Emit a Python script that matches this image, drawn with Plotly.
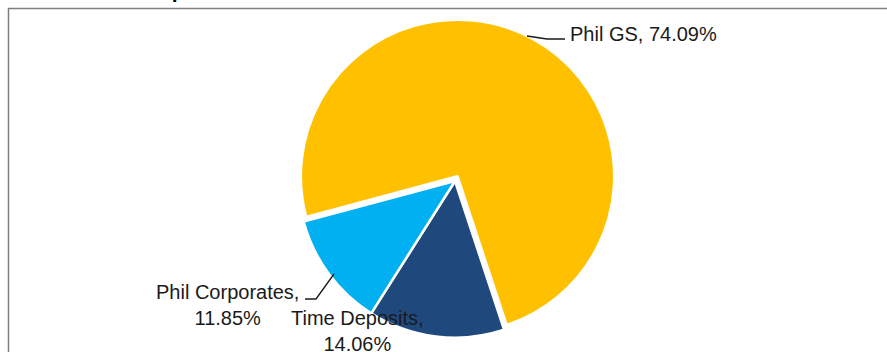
import plotly.graph_objects as go

W, H = 887, 352

labels = ["Phil GS", "Time Deposits", "Phil Corporates"]
values = [74.09, 14.06, 11.85]
colors = ["#FFC000", "#1F497D", "#00B0F0"]
pulls = [0.034, 0, 0]
title_text = "Portfolio Composition"

def px(x):
    return x / W

def py(y):
    return 1 - y / H

fig = go.Figure()
fig.add_trace(go.Pie(
    labels=labels,
    values=values,
    sort=False,
    direction="clockwise",
    rotation=-105,
    pull=pulls,
    textinfo="none",
    hoverinfo="label+percent",
    marker=dict(colors=colors, line=dict(color="white", width=2.5)),
    domain=dict(x=[px(455 - 162), px(455 + 162)], y=[py(181 + 162), py(181 - 162)]),
    showlegend=False,
))

font = dict(family="Liberation Sans, Arial, sans-serif", size=20, color="#1a1a1a")

# label positions (pixel coords, layout only)
label_pos = {
    "Phil GS": dict(x=568, y=34, xanchor="left", br=False),
    "Phil Corporates": dict(x=227, y=305, xanchor="center", br=True),
    "Time Deposits": dict(x=357, y=331, xanchor="center", br=True),
}
annotations = []
for lab, val in zip(labels, values):
    p = label_pos[lab]
    sep = "<br>" if p["br"] else " "
    annotations.append(dict(
        text=f"{lab},{sep}{val:.2f}%",
        x=px(p["x"]), y=py(p["y"]), xref="paper", yref="paper",
        xanchor=p["xanchor"], yanchor="middle", showarrow=False,
        font=font, align="center",
    ))

annotations.append(dict(
    text=f"<b>{title_text}</b>", x=px(31), y=py(-9.5), xref="paper", yref="paper",
    xanchor="left", yanchor="middle", showarrow=False,
    font=dict(family="Liberation Sans, Arial, sans-serif", size=21, color="#000000"),
))

shapes = [
    # outer frame
    dict(type="rect", xref="paper", yref="paper", x0=px(8.5), y0=-0.2, x1=1.2, y1=py(8.5),
         line=dict(color="#7f7f7f", width=1.5), fillcolor="rgba(0,0,0,0)", layer="below"),
    # leader line Phil GS
    dict(type="path", xref="paper", yref="paper",
         path=f"M {px(527)} {py(36)} L {px(547)} {py(39)} L {px(565)} {py(39)}",
         line=dict(color="#1a1a1a", width=1.3)),
    # leader line Phil Corporates
    dict(type="path", xref="paper", yref="paper",
         path=f"M {px(305)} {py(299)} L {px(316)} {py(299)} L {px(334)} {py(274)}",
         line=dict(color="#1a1a1a", width=1.3)),
]

fig.update_layout(
    width=W, height=H,
    margin=dict(l=0, r=0, t=0, b=0),
    paper_bgcolor="white", plot_bgcolor="white",
    annotations=annotations, shapes=shapes,
)

fig.write_html("out.html", config={"displayModeBar": False},
               post_script="document.body.style.margin='0px';")
